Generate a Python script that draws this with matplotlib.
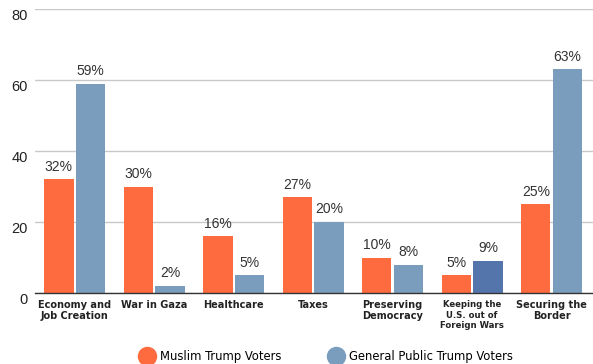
import matplotlib
matplotlib.use("Agg")
import matplotlib.pyplot as plt
import numpy as np
from matplotlib.lines import Line2D
from matplotlib.transforms import ScaledTranslation

categories = ["Economy and\nJob Creation", "War in Gaza", "Healthcare", "Taxes",
              "Preserving\nDemocracy", "Keeping the\nU.S. out of\nForeign Wars",
              "Securing the\nBorder"]
muslim = [32, 30, 16, 27, 10, 5, 25]
general = [59, 2, 5, 20, 8, 9, 63]
series_names = ["Muslim Trump Voters", "General Public Trump Voters"]
yticks = [0, 20, 40, 60, 80]

orange = "#FE6B3E"
blue = "#7A9DBE"
blue_dark = "#5475AC"
general_colors = [blue, blue, blue, blue, blue, blue_dark, blue]

plt.rcParams["font.family"] = ["Liberation Sans", "DejaVu Sans"]

fig = plt.figure(figsize=(5.93, 3.64), dpi=100)
ax = fig.add_axes([0.059, 0.195, 0.941, 0.78])

x = np.arange(len(categories))
w = 0.37
off = 0.2
b1 = ax.bar(x - off, muslim, w, color=orange, zorder=3)
b2 = ax.bar(x + off, general, w, color=general_colors, zorder=3)

for bars, vals in ((b1, muslim), (b2, general)):
    for rect, v in zip(bars, vals):
        ax.text(rect.get_x() + rect.get_width() / 2, v + 1.6, f"{v}%",
                ha="center", va="bottom", fontsize=10, color="#333333")

ax.set_xlim(-0.5, 6.52)
ax.set_ylim(0, 80)
ax.set_yticks(yticks)
ax.set_yticklabels([str(t) for t in yticks], fontsize=10.5, color="#222222")
ax.tick_params(axis="y", length=0, pad=5)
shift_down = ScaledTranslation(0, -5 / 100, fig.dpi_scale_trans)
for lbl in ax.get_yticklabels():
    lbl.set_transform(lbl.get_transform() + shift_down)
ax.tick_params(axis="x", length=0, pad=5)
ax.set_xticks(x)
ax.set_xticklabels(categories, fontsize=7.8, fontweight="bold", color="#222222",
                   linespacing=1.1, va="top", family="DejaVu Sans",
                   fontstretch="condensed", multialignment="center")
for lbl in ax.get_xticklabels():
    if lbl.get_text().startswith("Keeping"):
        lbl.set_fontsize(6.8)
        lbl.set_linespacing(1.25)
ax.grid(axis="y", color="#C8C8C8", linewidth=1.0, zorder=0)
for s in ("top", "right", "left"):
    ax.spines[s].set_visible(False)
ax.spines["bottom"].set_color("#333333")
ax.spines["bottom"].set_linewidth(1.0)
ax.spines["bottom"].set_zorder(4)

handles = [Line2D([], [], marker="o", linestyle="", markersize=13, color=orange),
           Line2D([], [], marker="o", linestyle="", markersize=13, color=blue)]
fig.legend(handles, series_names, loc="lower center", ncol=2, frameon=False,
           bbox_to_anchor=(0.55, -0.03), handlelength=1.2, handletextpad=0.4,
           columnspacing=3.6,
           prop={"family": "DejaVu Sans", "stretch": "condensed", "size": 9.3})

fig.savefig("out.png", dpi=100)
